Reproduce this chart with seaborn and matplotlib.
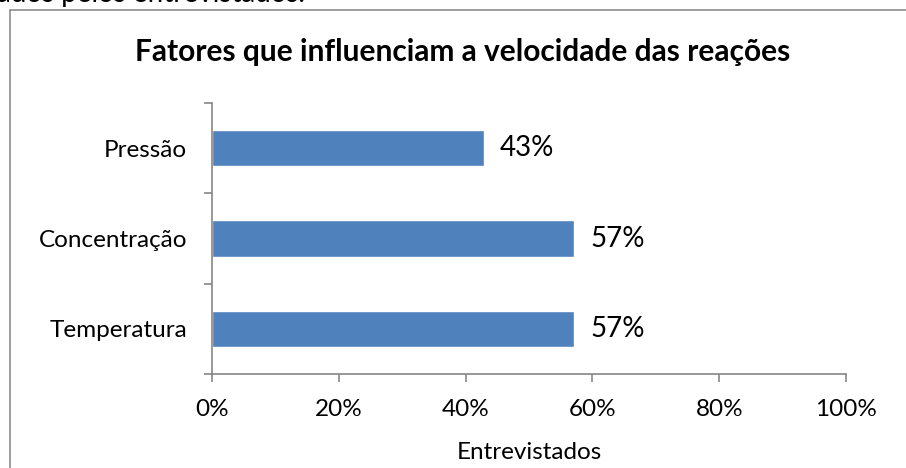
import matplotlib
matplotlib.use("Agg")
import matplotlib.pyplot as plt
import seaborn as sns
import pandas as pd
from matplotlib.patches import Rectangle

# dados do gráfico
fatores = ["Pressão", "Concentração", "Temperatura"]
percentuais = [0.4286, 0.5714, 0.5714]
rotulos = ["43%", "57%", "57%"]
xticks = [0.0, 0.2, 0.4, 0.6, 0.8, 1.0]
xtick_labels = ["0%", "20%", "40%", "60%", "80%", "100%"]

titulo = "Fatores que influenciam a velocidade das reações"
eixo_x = "Entrevistados"
texto_acima = "ados pelos entrevistados."

sns.set_theme(style="white")
plt.rcParams["font.family"] = ["Lato", "DejaVu Sans"]
plt.rcParams["text.color"] = "black"
plt.rcParams["axes.labelcolor"] = "black"
plt.rcParams["xtick.labelcolor"] = "black"
plt.rcParams["ytick.labelcolor"] = "black"

W, H = 906, 468
fig = plt.figure(figsize=(W / 100, H / 100), dpi=100)
ax = fig.add_axes([212 / W, 1 - 374 / H, 634 / W, 271 / H])

df = pd.DataFrame({"fator": fatores, "valor": percentuais})
sns.barplot(data=df, x="valor", y="fator", color="#4F81BD", saturation=1,
            width=0.4, ax=ax)

gray = "#868686"
ax.set_xlim(0, 1)
ax.set_ylim(2.5, -0.5)
ax.set_xticks(xticks)
ax.set_xticklabels(xtick_labels)
ax.set_yticks(range(len(fatores)))
ax.set_yticklabels(fatores)
ax.set_yticks([-0.5, 0.5, 1.5, 2.5], minor=True)
ax.tick_params(axis="y", which="major", length=0, pad=18, labelsize=17.5)
ax.tick_params(axis="y", which="minor", length=6, width=1.2, color=gray,
               left=True, direction="out")
ax.tick_params(axis="x", which="major", length=6, width=1.2, color=gray,
               bottom=True, direction="out", pad=12, labelsize=17.5)
ax.set_xlabel(eixo_x, fontsize=17.5, labelpad=16)
ax.set_ylabel("")
for s in ["top", "right"]:
    ax.spines[s].set_visible(False)
for s in ["left", "bottom"]:
    ax.spines[s].set_color(gray)
    ax.spines[s].set_linewidth(1.2)

for i, (v, r) in enumerate(zip(percentuais, rotulos)):
    ax.text(v + 0.025, i, r, va="center", ha="left", fontsize=20)

fig.text(463 / W, 1 - 52 / H, titulo, ha="center", va="center",
         fontsize=21.5, fontweight="bold")
fig.text(-3 / W, 1 - 2 / H, texto_acima, ha="left", va="baseline",
         fontsize=20)

fig.patches.append(Rectangle((10 / W, -0.1), 1.2, 1.1 - 10 / H,
                             transform=fig.transFigure, fill=False,
                             edgecolor="#8c8c8c", linewidth=1.2))

fig.savefig("out.png", dpi=100)
